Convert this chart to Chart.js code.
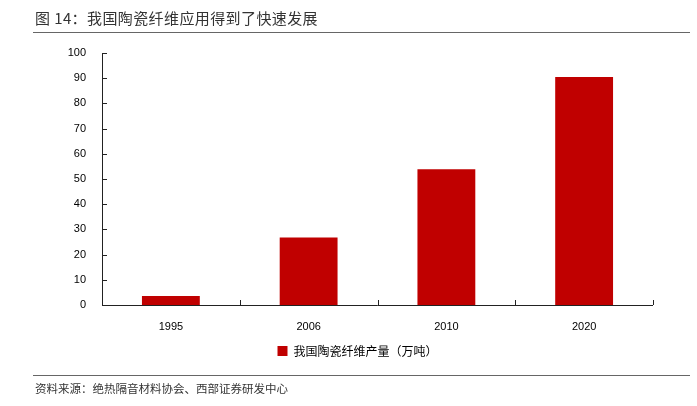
<!DOCTYPE html>
<html>
<head>
<meta charset="utf-8">
<script src="https://cdn.jsdelivr.net/npm/chart.js@4.4.0/dist/chart.umd.min.js"></script>
<style>
  html, body { margin: 0; padding: 0; background: #fff; }
  #wrap { position: relative; width: 697px; height: 406px; overflow: hidden; }
  #myChart { position: absolute; left: 0; top: 0; }
  .titulo { position: absolute; left: 35px; top: 7px; font: 15px "Noto Sans CJK SC", sans-serif; color: #333; letter-spacing: 0.4px; }
  .fuente { position: absolute; left: 35px; top: 380px; font: 11.5px "Noto Sans CJK SC", sans-serif; color: #333; }
  .regla { position: absolute; left: 33px; width: 657px; height: 0; border-top: 1.5px solid #666; }
</style>
</head>
<body>
<div id="wrap">
  <canvas id="myChart" width="697" height="406"></canvas>
  <div class="titulo">图 14：我国陶瓷纤维应用得到了快速发展</div>
  <div class="regla" style="top:32px"></div>
  <div class="regla" style="top:375px"></div>
  <div class="fuente">资料来源：绝热隔音材料协会、西部证券研发中心</div>
</div>
<script>
const anios = ['1995', '2006', '2010', '2020'];
const produccion = [3.6, 26.8, 53.9, 90.5];
const nombreSerie = '我国陶瓷纤维产量（万吨）';

// ticks hacia dentro, como en el original
const ejesPlugin = {
    id: 'ejes',
    afterDraw(chart) {
        const ctx = chart.ctx;
        const x = chart.scales.x;
        const y = chart.scales.y;
        ctx.save();
        ctx.strokeStyle = '#222';
        ctx.lineWidth = 1;
        ctx.beginPath();
        ctx.moveTo(x.left + 0.5, y.top);
        ctx.lineTo(x.left + 0.5, y.bottom + 0.5);
        ctx.lineTo(x.right, y.bottom + 0.5);
        y.ticks.forEach(t => {
            const py = Math.round(y.getPixelForValue(t.value)) + 0.5;
            ctx.moveTo(x.left, py);
            ctx.lineTo(x.left + 5, py);
        });
        const ancho = (x.right - x.left) / anios.length;
        for (let i = 0; i <= anios.length; i++) {
            const px = Math.round(x.left + i * ancho) + 0.5;
            ctx.moveTo(px, y.bottom);
            ctx.lineTo(px, y.bottom - 5);
        }
        ctx.stroke();
        ctx.restore();
    }
};

const ctx = document.getElementById('myChart').getContext('2d');
new Chart(ctx, {
    type: 'bar',
    data: {
        labels: anios,
        datasets: [{
            label: nombreSerie,
            data: produccion,
            backgroundColor: '#C00000',
            borderWidth: 0,
            barPercentage: 1,
            categoryPercentage: 0.42
        }]
    },
    options: {
        responsive: false,
        animation: false,
        layout: {
            padding: { left: 62, right: 44, top: 53, bottom: 39 }
        },
        scales: {
            x: {
                grid: { display: false },
                border: { display: false },
                ticks: {
                    color: '#000',
                    font: { family: 'Liberation Sans', size: 11 },
                    padding: 7
                },
                afterFit: scale => { scale.height = 30; }
            },
            y: {
                min: 0,
                max: 100,
                grid: { display: false },
                border: { display: false },
                ticks: {
                    stepSize: 10,
                    color: '#000',
                    font: { family: 'Liberation Sans', size: 11 },
                    padding: 8
                },
                afterFit: scale => { scale.width = 40; }
            }
        },
        plugins: {
            legend: {
                display: true,
                position: 'bottom',
                labels: {
                    boxWidth: 10,
                    boxHeight: 10,
                    color: '#000',
                    font: { family: 'Noto Sans CJK SC', size: 12 },
                    padding: 10
                }
            },
            tooltip: { enabled: false }
        }
    },
    plugins: [ejesPlugin]
});
</script>
</body>
</html>
